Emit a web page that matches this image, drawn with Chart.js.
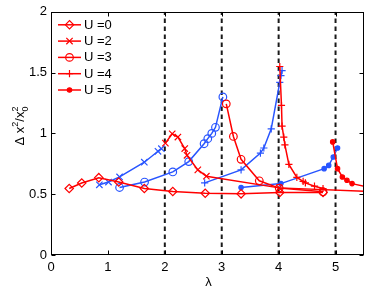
<!DOCTYPE html>
<html>
<head>
<meta charset="utf-8">
<script src="https://cdn.jsdelivr.net/npm/chart.js@4.4.1/dist/chart.umd.min.js"></script>
<style>
  html, body { margin: 0; padding: 0; background: #fff; }
  #wrap { width: 374px; height: 290px; }
</style>
</head>
<body>
<div id="wrap"><canvas id="chart" width="374" height="290"></canvas></div>
<script>
// axis ticks and the dashed guide lines
const xTicks = [0, 1, 2, 3, 4, 5];
const yTicks = [0, 0.5, 1, 1.5, 2];
const dashedAt = [2, 3, 4, 5];

// U = 0 (red diamonds)
const u0X = [0.32, 0.54, 0.84, 1.19, 1.64, 2.14, 2.71, 3.34, 4.02, 4.78];
const u0Y = [0.547, 0.592, 0.636, 0.60, 0.547, 0.522, 0.508, 0.503, 0.515, 0.515];

// U = 2 : rising branch (blue) and falling branch (red)
const u2BlueX = [0.85, 1.01, 1.205, 1.64, 1.88, 1.94];
const u2BlueY = [0.577, 0.60, 0.642, 0.763, 0.853, 0.874];
const u2RedX = [2.01, 2.13, 2.23, 2.35, 2.39, 2.58, 2.73, 4.01, 5.7];
const u2RedY = [0.92, 0.997, 0.97, 0.875, 0.82, 0.70, 0.648, 0.552, 0.52];

// U = 3
const u3BlueX = [1.205, 1.644, 2.14, 2.42, 2.69, 2.755, 2.825, 2.89, 3.02];
const u3BlueY = [0.555, 0.60, 0.683, 0.768, 0.915, 0.957, 1.0, 1.05, 1.30];
const u3RedX = [3.08, 3.205, 3.34, 3.66, 4.01, 4.78];
const u3RedY = [1.243, 0.975, 0.787, 0.61, 0.55, 0.52];

// U = 4
const u4BlueX = [2.70, 3.34, 3.68, 3.74, 3.87, 4.02, 4.04, 4.06];
const u4BlueY = [0.593, 0.70, 0.838, 0.88, 1.038, 1.42, 1.475, 1.516];
const u4RedX = [4.02, 4.05, 4.06, 4.09, 4.11, 4.18, 4.32, 4.43, 4.47, 4.63, 4.78];
const u4RedY = [1.55, 1.23, 1.06, 0.97, 0.905, 0.745, 0.638, 0.605, 0.593, 0.566, 0.547];

// U = 5
const u5BlueX = [3.34, 4.04, 4.80, 4.88, 4.96, 5.035];
const u5BlueY = [0.555, 0.587, 0.71, 0.737, 0.806, 0.88];
const u5RedX = [4.95, 5.035, 5.12, 5.2, 5.29, 5.7];
const u5RedY = [0.93, 0.71, 0.642, 0.615, 0.587, 0.545];

const RED = '#ff0000';
const BLUE = 'rgb(40,85,255)';
const FONT = '"Liberation Sans", Arial, Helvetica, sans-serif';

function series(xs, ys, color, style, radius, label) {
  const dot = style === 'dot';
  return {
    label: label || '',
    data: xs.map((x, i) => ({ x: x, y: ys[i] })),
    borderColor: color,
    backgroundColor: color,
    pointBorderColor: color,
    pointBackgroundColor: dot ? color : 'rgba(0,0,0,0)',
    pointStyle: dot ? 'circle' : style,
    pointRadius: radius,
    pointHoverRadius: radius,
    borderWidth: 1.5,
    pointBorderWidth: 1.2,
    tension: 0,
    fill: false
  };
}

const datasets = [
  series(u0X, u0Y, RED, 'rectRot', 4.2, 'U =0'),
  series(u2RedX, u2RedY, RED, 'crossRot', 4.5, 'U =2'),
  series(u3RedX, u3RedY, RED, 'circle', 3.8, 'U =3'),
  series(u4RedX, u4RedY, RED, 'cross', 3.6, 'U =4'),
  series(u5RedX, u5RedY, RED, 'dot', 2.2, 'U =5'),
  series(u2BlueX, u2BlueY, BLUE, 'crossRot', 4.5),
  series(u3BlueX, u3BlueY, BLUE, 'circle', 3.8),
  series(u4BlueX, u4BlueY, BLUE, 'cross', 3.6),
  series(u5BlueX, u5BlueY, BLUE, 'dot', 2.2)
];

dashedAt.forEach(v => {
  datasets.push({
    label: '',
    data: [{ x: v, y: yTicks[0] }, { x: v, y: yTicks[yTicks.length - 1] }],
    borderColor: '#1a1a1a',
    borderWidth: 2,
    borderDash: [4.5, 3.5],
    pointRadius: 0,
    fill: false
  });
});

// box, inward ticks, y label with sub/superscripts, legend inside the axes
const decorations = {
  id: 'decorations',
  afterDraw(chart) {
    const ctx = chart.ctx;
    const a = chart.chartArea;
    const xs = chart.scales.x, ys = chart.scales.y;
    const L = Math.round(a.left) + 0.5, R = Math.round(a.right) - 0.5;
    const T = Math.round(a.top) + 0.5, B = Math.round(a.bottom) - 0.5;
    ctx.save();
    ctx.strokeStyle = '#000';
    ctx.lineWidth = 1;
    ctx.strokeRect(L, T, R - L, B - T);
    ctx.beginPath();
    xTicks.forEach(v => {
      const px = Math.round(xs.getPixelForValue(v)) + 0.5;
      ctx.moveTo(px, B); ctx.lineTo(px, B - 4);
      ctx.moveTo(px, T); ctx.lineTo(px, T + 4);
    });
    yTicks.forEach(v => {
      const py = Math.round(ys.getPixelForValue(v)) + 0.5;
      ctx.moveTo(L, py); ctx.lineTo(L + 4, py);
      ctx.moveTo(R, py); ctx.lineTo(R - 4, py);
    });
    ctx.stroke();

    // x label
    ctx.fillStyle = '#000';
    ctx.font = '13px ' + FONT;
    ctx.textAlign = 'center';
    ctx.textBaseline = 'middle';
    ctx.fillText('λ', (a.left + a.right) / 2 + 1, 282);

    // y label  Δ x^2/x_0^2
    ctx.save();
    ctx.translate(20, 126);
    ctx.rotate(-Math.PI / 2);
    ctx.textAlign = 'left';
    ctx.textBaseline = 'alphabetic';
    const big = '13px ' + FONT, small = '9px ' + FONT;
    ctx.font = big; const w1 = ctx.measureText('Δ x').width;
    const w3 = ctx.measureText('/x').width;
    ctx.font = small; const w2 = ctx.measureText('2').width;
    const total = w1 + w2 + w3 + w2;
    let x = -total / 2;
    ctx.font = big; ctx.fillText('Δ x', x, 4); x += w1;
    ctx.font = small; ctx.fillText('2', x, -2); x += w2;
    ctx.font = big; ctx.fillText('/x', x, 4); x += w3;
    ctx.font = small; ctx.fillText('2', x, -2); ctx.fillText('0', x, 8);
    ctx.restore();

    // legend
    const items = chart.data.datasets.filter(d => d.label);
    items.forEach((d, i) => {
      const y = a.top + 13 + i * 16.3;
      const x0 = a.left + 7, x1 = a.left + 30;
      ctx.strokeStyle = d.borderColor;
      ctx.fillStyle = d.pointBackgroundColor;
      ctx.lineWidth = d.borderWidth;
      ctx.setLineDash([]);
      ctx.beginPath(); ctx.moveTo(x0, y); ctx.lineTo(x1, y); ctx.stroke();
      ctx.lineWidth = d.pointBorderWidth;
      Chart.helpers.drawPoint(ctx, {
        pointStyle: d.pointStyle, radius: d.pointRadius,
        borderWidth: d.pointBorderWidth, rotation: 0
      }, (x0 + x1) / 2, y);
      ctx.fillStyle = '#000';
      ctx.font = '13px ' + FONT;
      ctx.textAlign = 'left';
      ctx.textBaseline = 'middle';
      ctx.fillText(d.label, x1 + 3, y + 0.5);
    });
    ctx.restore();
  }
};

new Chart(document.getElementById('chart').getContext('2d'), {
  type: 'line',
  data: { datasets: datasets },
  options: {
    responsive: false,
    animation: false,
    events: [],
    layout: { padding: { top: 11, right: 10, left: 0, bottom: 0 } },
    plugins: { legend: { display: false }, tooltip: { enabled: false } },
    scales: {
      x: {
        type: 'linear', min: 0, max: 5.5,
        grid: { display: false, drawTicks: false },
        border: { display: false },
        ticks: { color: '#000', font: { size: 13, family: FONT }, padding: 5, maxRotation: 0, autoSkip: false },
        afterBuildTicks: s => { s.ticks = xTicks.map(v => ({ value: v })); },
        afterFit: s => { s.height = 35; }
      },
      y: {
        type: 'linear', min: 0, max: 2,
        grid: { display: false, drawTicks: false },
        border: { display: false },
        ticks: { color: '#000', font: { size: 13, family: FONT }, padding: 4, callback: v => String(v) },
        afterBuildTicks: s => { s.ticks = yTicks.map(v => ({ value: v })); },
        afterFit: s => { s.width = 51; }
      }
    }
  },
  plugins: [decorations]
});
</script>
</body>
</html>
